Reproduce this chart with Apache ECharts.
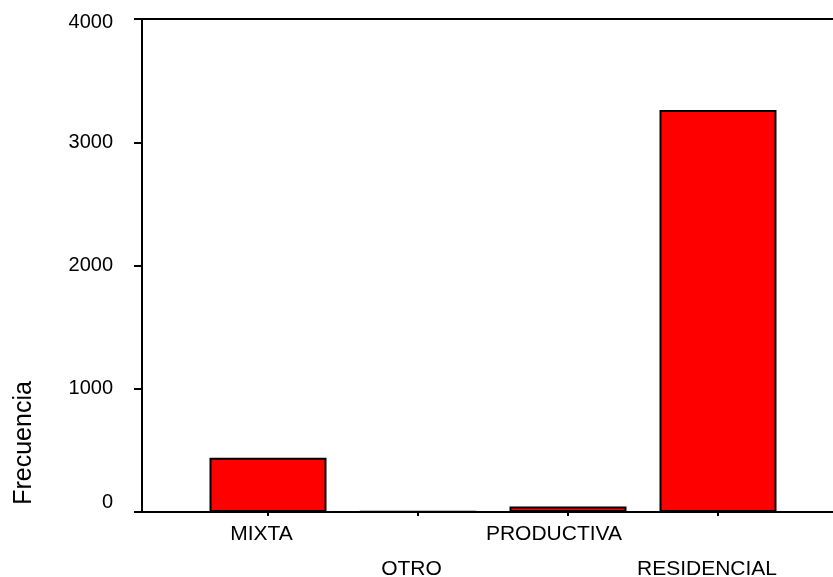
<!DOCTYPE html>
<html>
<head>
<meta charset="utf-8">
<script src="https://cdn.jsdelivr.net/npm/echarts@6/dist/echarts.min.js"></script>
<style>
html,body{margin:0;padding:0;background:#fff;}
#chart{width:833px;height:577px;}
</style>
</head>
<body>
<div id="chart"></div>
<script>
var categories = ['MIXTA', 'OTRO', 'PRODUCTIVA', 'RESIDENCIAL'];
var frecuencia = [440, 5, 45, 3262];
var yTicks = [0, 1000, 2000, 3000, 4000];
var yTitle = 'Frecuencia';

var FONT = 'Arial, "Liberation Sans", sans-serif';
var labelShift = [13, 13, 28, 22];
var rich = {};
for (var i = 0; i < categories.length; i++) {
  rich['c' + i] = {
    fontSize: 21, fontFamily: FONT, color: '#000',
    padding: [i % 2 ? 35 : 0, labelShift[i], 0, 0]
  };
}

var chart = echarts.init(document.getElementById('chart'));
var option = {
  backgroundColor: '#ffffff',
  animation: false,
  textStyle: { fontFamily: FONT },
  grid: [
    { left: 142, right: 0, top: 19, bottom: 65, containLabel: false, outerBoundsMode: 'none' },
    { left: 193, right: 40, top: 19, bottom: 65, containLabel: false, outerBoundsMode: 'none' }
  ],
  xAxis: [
    { gridIndex: 0, type: 'value', min: 0, max: 1, position: 'bottom',
      axisLine: { show: true, onZero: false, lineStyle: { color: '#000', width: 2 } },
      axisTick: { show: false }, axisLabel: { show: false }, splitLine: { show: false } },
    { gridIndex: 0, type: 'value', min: 0, max: 1, position: 'top',
      axisLine: { show: true, onZero: false, lineStyle: { color: '#000', width: 2 } },
      axisTick: { show: false }, axisLabel: { show: false }, splitLine: { show: false } },
    { gridIndex: 1, type: 'category', data: categories, boundaryGap: true,
      axisLine: { show: false },
      axisTick: { show: true, alignWithLabel: true, length: 4, lineStyle: { color: '#000', width: 2 } },
      axisLabel: {
        interval: 0, margin: 12, color: '#000', fontSize: 21, fontFamily: FONT,
        formatter: function (v, i) { return '{c' + i + '|' + v + '}'; },
        rich: rich
      },
      splitLine: { show: false } }
  ],
  yAxis: [
    { gridIndex: 0, type: 'value', min: yTicks[0], max: yTicks[yTicks.length - 1], interval: 1000,
      axisLine: { show: true, lineStyle: { color: '#000', width: 2 } },
      axisTick: { show: true, length: 8, lineStyle: { color: '#000', width: 2 } },
      axisLabel: {
        margin: 29, color: '#000', fontSize: 20, fontFamily: FONT,
        formatter: function (v) {
          if (v === 0) return '{z|0}';
          if (v === 4000) return '{t|4000}';
          return String(v);
        },
        rich: {
          z: { fontSize: 20, fontFamily: FONT, color: '#000', padding: [0, 0, 20, 0] },
          t: { fontSize: 20, fontFamily: FONT, color: '#000', padding: [6, 0, 0, 0] }
        }
      },
      splitLine: { show: false } },
    { gridIndex: 1, type: 'value', min: yTicks[0], max: yTicks[yTicks.length - 1], show: false }
  ],
  graphic: [
    { type: 'text', x: 24, y: 443, rotation: Math.PI / 2,
      style: { text: yTitle, fontSize: 25, fontFamily: FONT, fill: '#000', align: 'center', verticalAlign: 'middle' } }
  ],
  series: [
    { type: 'bar', xAxisIndex: 2, yAxisIndex: 1, data: frecuencia, barWidth: 117,
      itemStyle: { color: '#ff0000', borderColor: '#000', borderWidth: 2 } }
  ]
};
chart.setOption(option);
</script>
</body>
</html>
